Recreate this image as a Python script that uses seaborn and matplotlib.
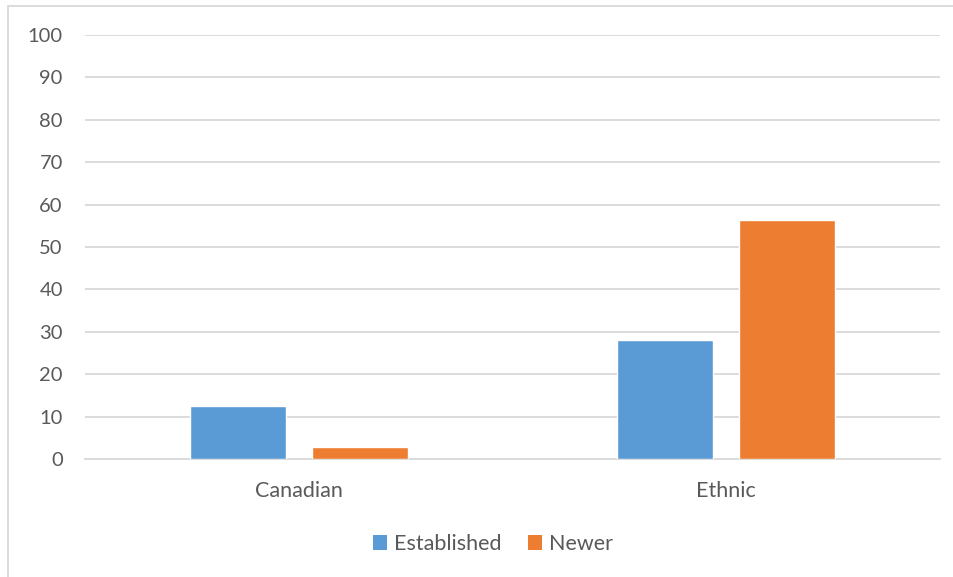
import matplotlib
matplotlib.use("Agg")
import matplotlib.pyplot as plt
from matplotlib.lines import Line2D
from matplotlib.patches import Patch
import seaborn as sns
import pandas as pd

# Share of respondents by identity group and cohort
categories = ["Canadian", "Ethnic"]
series_names = ["Established", "Newer"]
established = [12.6, 28.0]
newer = [2.8, 56.3]
y_ticks = [0, 10, 20, 30, 40, 50, 60, 70, 80, 90, 100]

colors = {"Established": "#5B9BD5", "Newer": "#ED7D31"}
grid_color = "#D9D9D9"
text_color = "#595959"

df = pd.DataFrame({
    "category": categories * 2,
    "series": [series_names[0]] * len(categories) + [series_names[1]] * len(categories),
    "value": established + newer,
})

sns.set_theme(style="white")
plt.rcParams["font.family"] = ["Lato", "DejaVu Sans"]

W, H, DPI = 954, 577, 100
fig = plt.figure(figsize=(W / DPI, H / DPI), dpi=DPI)
ax = fig.add_axes([85 / W, 1 - 459 / H, (940 - 85) / W, (459 - 35) / H])

sns.barplot(data=df, x="category", y="value", hue="series", order=categories,
            hue_order=series_names, palette=colors, width=0.57, gap=0.21,
            saturation=1, ax=ax, legend=False, zorder=3)

ax.set_ylim(0, 100)
ax.set_xlim(-0.5, 1.5)
ax.set_yticks(y_ticks)
ax.yaxis.grid(True, color=grid_color, linewidth=1.3, zorder=0)
ax.set_axisbelow(True)
for side in ["left", "right", "top"]:
    ax.spines[side].set_visible(False)
ax.spines["bottom"].set_color(grid_color)
ax.spines["bottom"].set_linewidth(1.3)
ax.tick_params(axis="both", length=0, colors=text_color)
ax.tick_params(axis="y", pad=16, labelsize=14.5)
ax.tick_params(axis="x", pad=16, labelsize=15.5)
ax.set_xlabel("")
ax.set_ylabel("")

# Legend below the plot area
handles = [Patch(facecolor=colors[s], edgecolor="none", label=s) for s in series_names]
fig.legend(handles=handles, loc="center", bbox_to_anchor=(493 / W, 1 - 544 / H),
           ncol=2, frameon=False, fontsize=15.5, labelcolor=text_color,
           handlelength=0.65, handleheight=0.65, handletextpad=0.35,
           columnspacing=1.2)

# Chart-area border
fig.add_artist(Line2D([8 / W, 8 / W], [0, 1 - 6 / H], transform=fig.transFigure,
                      color=grid_color, linewidth=1.3))
fig.add_artist(Line2D([8 / W, 1], [1 - 6 / H, 1 - 6 / H], transform=fig.transFigure,
                      color=grid_color, linewidth=1.3))

fig.savefig("out.png", dpi=DPI, facecolor="white")
